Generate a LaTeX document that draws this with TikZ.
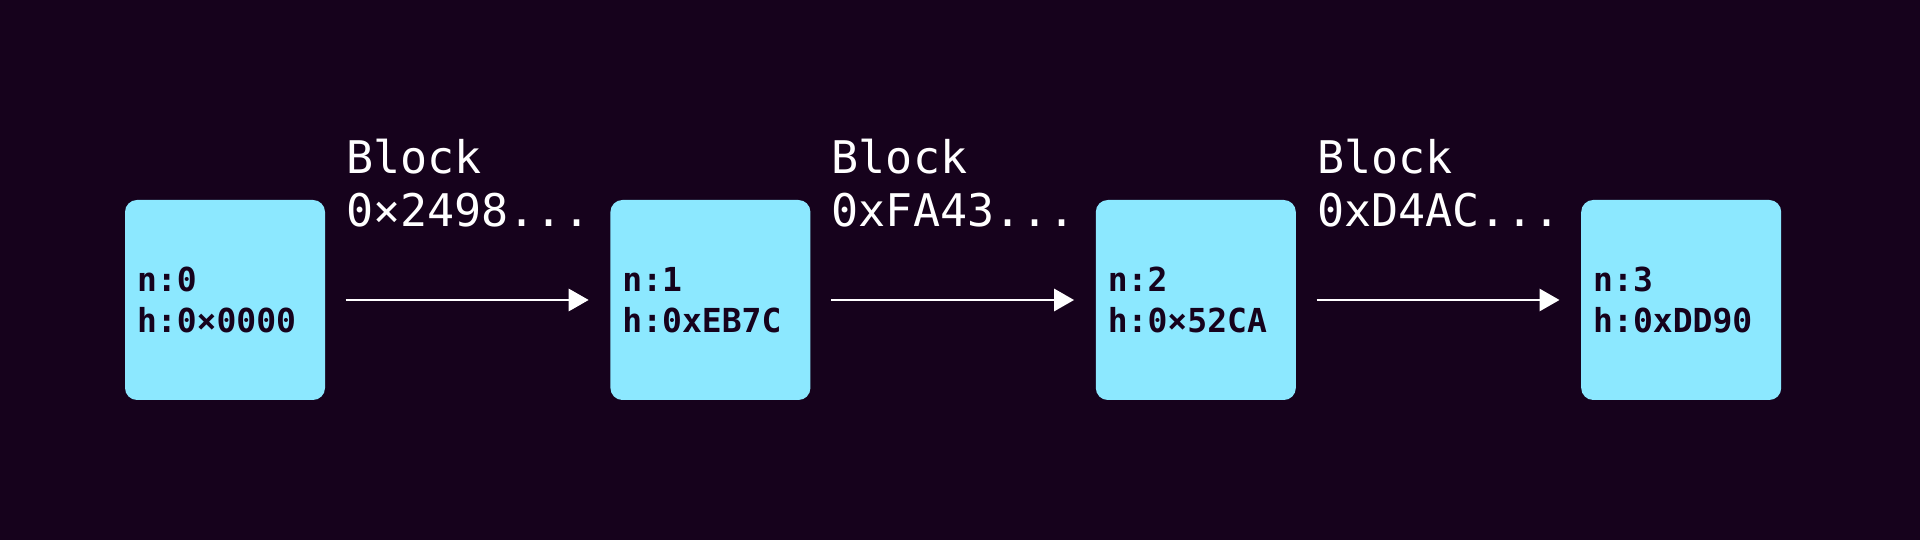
\documentclass[tikz,border=0pt]{standalone}
\usepackage{fontspec}
\setmonofont{DejaVu Sans Mono}
\usetikzlibrary{positioning,arrows.meta,calc}
\definecolor{bgdark}{HTML}{16021C}
\definecolor{boxcyan}{HTML}{8CE8FF}
\begin{document}
\begin{tikzpicture}
\tikzstyle{block}=[fill=boxcyan, rounded corners=0.12cm, minimum width=2cm, minimum height=2cm, text width=1.76cm, align=left, inner xsep=0.12cm, text=bgdark, font=\ttfamily\fontsize{9.4}{11.6}\selectfont\bfseries]
\tikzstyle{link}=[white, line width=0.85pt, -{Triangle[length=0.2cm,width=0.22cm]}, shorten <=0.2cm, shorten >=0.21cm]
\tikzstyle{lbl}=[white, align=left, inner sep=0pt, anchor=south west, font=\ttfamily\fontsize{12.8}{15}\selectfont]
\fill [bgdark] (0,0) rectangle (19.2,5.4);
\useasboundingbox (0,0) rectangle (19.2,5.4);
\node [block] (b0) at (2.25,2.4) {n:0\\h:0×0000};
\node [block, right=2.84cm of b0] (b1) {n:1\\h:0xEB7C};
\node [block, right=2.84cm of b1] (b2) {n:2\\h:0×52CA};
\node [block, right=2.84cm of b2] (b3) {n:3\\h:0xDD90};
\draw [link] (b0) -- (b1);
\draw [link] (b1) -- (b2);
\draw [link] (b2) -- (b3);
\node [lbl] (l0) at ($(b0.east)+(0.2,0.72)$) {Block\\0×2498...};
\node [lbl] (l1) at ($(b1.east)+(0.2,0.72)$) {Block\\0xFA43...};
\node [lbl] (l2) at ($(b2.east)+(0.2,0.72)$) {Block\\0xD4AC...};
\end{tikzpicture}
\end{document}
